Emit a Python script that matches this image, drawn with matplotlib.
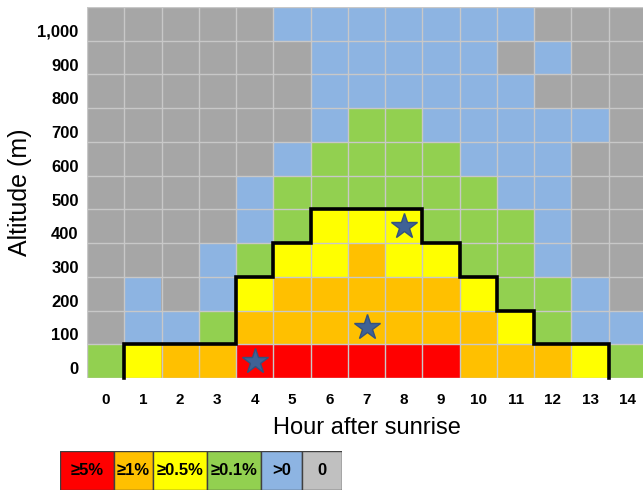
import numpy as np
import matplotlib
matplotlib.use("Agg")
import matplotlib.pyplot as plt
from matplotlib.colors import ListedColormap
from matplotlib.patches import Rectangle
from matplotlib.transforms import ScaledTranslation

plt.rcParams['font.family'] = ['Liberation Sans', 'DejaVu Sans']

hours = list(range(15))
altitudes = [0, 100, 200, 300, 400, 500, 600, 700, 800, 900, 1000]
alt_labels = ['0', '100', '200', '300', '400', '500', '600', '700', '800', '900', '1,000']

# category codes: 0 '>=5%', 1 '>=1%', 2 '>=0.5%', 3 '>=0.1%', 4 '>0', 5 '0'
# one row per altitude, from 0 m up to 1,000 m
cells = [
    [3, 2, 1, 1, 0, 0, 0, 0, 0, 0, 1, 1, 1, 2, 3],  # 0
    [5, 4, 4, 3, 1, 1, 1, 1, 1, 1, 1, 2, 3, 4, 4],  # 100
    [5, 4, 5, 4, 2, 1, 1, 1, 1, 1, 2, 3, 3, 4, 5],  # 200
    [5, 5, 5, 4, 3, 2, 2, 1, 2, 2, 3, 3, 4, 5, 5],  # 300
    [5, 5, 5, 5, 4, 3, 2, 2, 2, 3, 3, 3, 4, 5, 5],  # 400
    [5, 5, 5, 5, 4, 3, 3, 3, 3, 3, 3, 4, 4, 5, 5],  # 500
    [5, 5, 5, 5, 5, 4, 3, 3, 3, 3, 4, 4, 4, 5, 5],  # 600
    [5, 5, 5, 5, 5, 5, 4, 3, 3, 4, 4, 4, 4, 4, 5],  # 700
    [5, 5, 5, 5, 5, 5, 4, 4, 4, 4, 4, 4, 5, 5, 5],  # 800
    [5, 5, 5, 5, 5, 5, 4, 4, 4, 4, 4, 5, 4, 5, 5],  # 900
    [5, 5, 5, 5, 5, 4, 4, 4, 4, 4, 4, 4, 5, 5, 5],  # 1,000
]

# stars: (hour, altitude)
star_hours = [4, 7, 8]
star_alts = [0, 100, 400]

legend_labels = ['\u22655%', '\u22651%', '\u22650.5%', '\u22650.1%', '>0', '0']
cell_colors = ['#FF0000', '#FFC000', '#FFFF00', '#92D050', '#8DB4E2', '#A6A6A6']
legend_colors = ['#FF0000', '#FFC000', '#FFFF00', '#92D050', '#8DB4E2', '#C0C0C0']

grid = np.array(cells)
fig = plt.figure(figsize=(6.43, 4.91), dpi=100)
ax = fig.add_axes([87/643, 1 - 378/491, (646 - 87)/643, (378 - 7)/491])

ax.imshow(grid, cmap=ListedColormap(cell_colors), vmin=-0.5, vmax=5.5,
          origin='lower', aspect='auto', interpolation='nearest')

# cell borders
ax.set_xticks(np.arange(-0.5, len(hours), 1), minor=True)
ax.set_yticks(np.arange(-0.5, len(altitudes), 1), minor=True)
ax.grid(which='minor', color='#C8C8C8', linewidth=1)
ax.tick_params(which='minor', length=0)

# black outline around the >=0.5% region
height = (grid <= 2).sum(axis=0)
xs, ys = [], []
for i, h in enumerate(height):
    if h == 0:
        continue
    xs += [i - 0.5, i + 0.5]
    ys += [h - 0.5, h - 0.5]
xs = [xs[0]] + xs + [xs[-1]]
ys = [-0.5] + ys + [-0.5]
ax.plot(xs, ys, color='black', lw=2.6, solid_joinstyle='miter', clip_on=False, zorder=3)

ax.plot(star_hours, [altitudes.index(a) for a in star_alts], linestyle='none',
        marker='*', markersize=19, color='#3F6296', markeredgecolor='#34527e', zorder=4)

ax.set_xticks(range(len(hours)))
ax.set_xticklabels([str(h) for h in hours], fontsize=11, fontweight='bold')
ax.set_yticks(range(len(altitudes)))
ax.set_yticklabels(alt_labels, fontsize=12, fontweight='bold')
ax.tick_params(axis='y', length=0, pad=6)
ax.tick_params(axis='x', length=0, pad=11)
off = ScaledTranslation(0, -0.07, fig.dpi_scale_trans)
for lab in ax.get_yticklabels():
    lab.set_transform(lab.get_transform() + off)
for s in ax.spines.values():
    s.set_visible(False)
ax.set_xlabel('Hour after sunrise', fontsize=17, labelpad=7)
ax.set_ylabel('Altitude (m)', fontsize=18, labelpad=4)

# legend strip
edges = [60, 114, 153, 207, 261, 302, 342]
lax = fig.add_axes([60/643, 1 - 490/491, (342 - 60)/643, (490 - 451)/491])
lax.set_xlim(edges[0], edges[-1])
lax.set_ylim(0, 1)
lax.axis('off')
for i, lab in enumerate(legend_labels):
    lax.add_patch(Rectangle((edges[i], 0), edges[i+1] - edges[i], 1,
                            facecolor=legend_colors[i], edgecolor='#404040', lw=1))
    lax.text((edges[i] + edges[i+1]) / 2, 0.5, lab, ha='center', va='center',
             fontsize=12, fontweight='bold')

fig.savefig('out.png', dpi=100)
